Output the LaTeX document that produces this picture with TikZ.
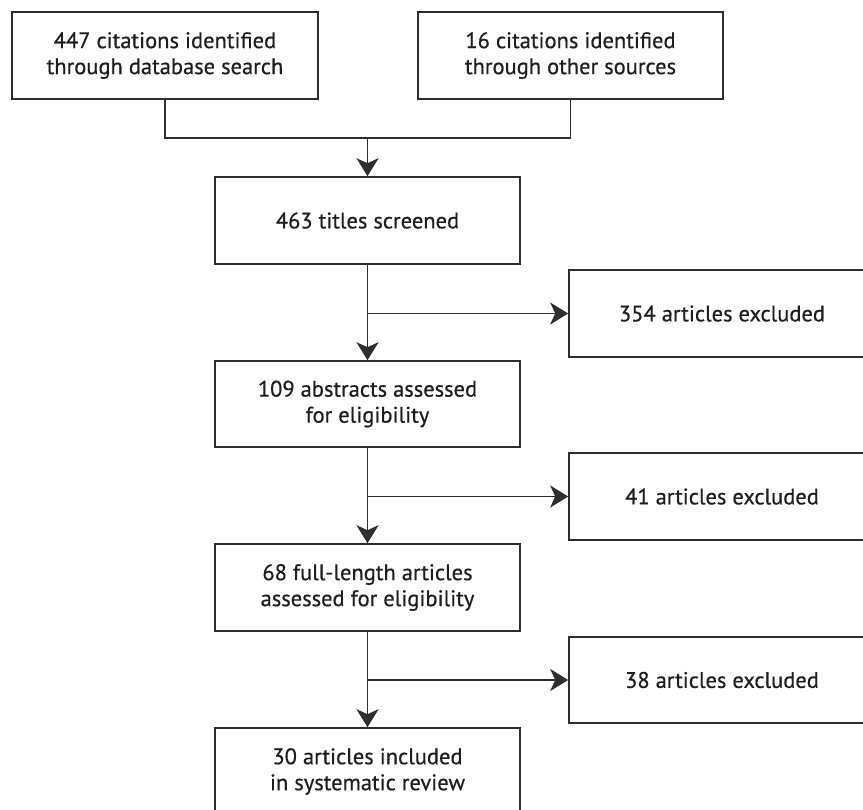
\documentclass[tikz,border=0pt]{standalone}
\usepackage{fontspec}
\newfontfamily\boxfont{PT Sans}[FakeBold=0.5]
\usetikzlibrary{arrows.meta}
\definecolor{ln}{HTML}{2E2E2E}
\definecolor{tx}{HTML}{1E1E1E}
\tikzset{
  box/.style={draw=ln, line width=1.6pt, rectangle, inner sep=0pt, align=center,
    text=tx, font=\boxfont\fontsize{22.5}{26}\selectfont},
  conn/.style={draw=ln, line width=1.6pt},
  arr/.style={conn, -{Stealth[length=18pt,width=22pt,inset=5pt]}}
}
\begin{document}
\begin{tikzpicture}[x=1pt,y=-1pt]
\useasboundingbox (0,0) rectangle (863,810);
\clip (0,0) rectangle (863,810);
\node[box, minimum width=306pt, minimum height=87pt] (A) at (165,55.5) {447 citations identified\\through database search};
\node[box, minimum width=305pt, minimum height=87pt] (B) at (570.5,55.5) {16 citations identified\\through other sources};
\node[box, minimum width=305pt, minimum height=87pt] (C) at (367.5,220.5) {463 titles screened};
\node[box, minimum width=306pt, minimum height=87pt] (E) at (722,313.5) {354 articles excluded};
\node[box, minimum width=305pt, minimum height=86pt] (D) at (367.5,404) {109 abstracts assessed\\for eligibility};
\node[box, minimum width=306pt, minimum height=87pt] (G) at (722,496.5) {41 articles excluded};
\node[box, minimum width=305pt, minimum height=87pt] (F) at (367.5,587.5) {68 full-length articles\\assessed for eligibility};
\node[box, minimum width=306pt, minimum height=86pt] (H) at (722,680) {38 articles excluded};
\node[box, minimum width=305pt, minimum height=87pt] (I) at (367.5,771.5) {30 articles included\\in systematic review};
\coordinate (m) at (C.north |- 0,138);
\draw[conn] (A.south) |- (m) -| (B.south);
\draw[arr] (m) -- (C.north);
\draw[arr] (C.south) -- (D.north);
\draw[arr] (C.south |- E.west) -- (E.west);
\draw[arr] (D.south) -- (F.north);
\draw[arr] (D.south |- G.west) -- (G.west);
\draw[arr] (F.south) -- (I.north);
\draw[arr] (F.south |- H.west) -- (H.west);
\end{tikzpicture}
\end{document}
